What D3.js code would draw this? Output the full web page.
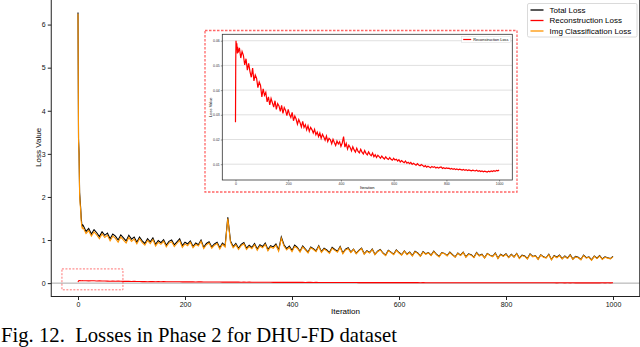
<!DOCTYPE html>
<html>
<head>
<meta charset="utf-8">
<script src="https://cdn.jsdelivr.net/npm/d3@7"></script>
<style>
  html, body { margin: 0; padding: 0; background: #fff; }
  svg { display: block; }
  .tick text { font-family: "Liberation Sans", Arial, sans-serif; }
</style>
</head>
<body>
<figure id="chart" style="margin:0"></figure>
<script>
// iterations: first ten one by one, then every 5th
const iterations = [0, 1, 2, 3, 4, 5, 6, 7, 8, 9].concat(d3.range(10, 1001, 5));

const clsLoss = [
  6.25, 3.30, 2.95, 2.05, 1.85, 1.68, 1.45, 1.32, 1.27, 1.29,
  1.28, 1.15, 1.22, 1.09, 1.19, 1.12, 1.03, 1.14, 1.06, 1.11,
  0.98, 1.09, 1.04, 0.95, 1.07, 1.00, 0.93, 1.06, 0.97, 1.02,
  0.91, 1.03, 0.94, 0.88, 0.99, 0.92, 1.01, 0.86, 0.95, 0.90,
  0.97, 0.84, 0.93, 0.96, 0.85, 0.92, 0.99, 0.83, 0.91, 0.87,
  0.95, 0.82, 0.90, 0.86, 0.97, 0.80, 0.89, 0.93, 0.81, 0.88,
  0.92, 0.79, 0.90, 0.84, 1.50, 0.95, 0.82, 0.89, 0.78, 0.87,
  0.91, 0.78, 0.85, 0.80, 0.89, 0.76, 0.86, 0.82, 0.90, 0.75,
  0.84, 0.81, 0.88, 0.74, 1.04, 0.86, 0.77, 0.83, 0.73, 0.85,
  0.81, 0.72, 0.84, 0.77, 0.70, 0.82, 0.78, 0.73, 0.85, 0.71,
  0.79, 0.75, 0.69, 0.81, 0.76, 0.72, 0.83, 0.68, 0.77, 0.80,
  0.71, 0.78, 0.68, 0.75, 0.80, 0.67, 0.74, 0.70, 0.78, 0.66,
  0.73, 0.77, 0.69, 0.64, 0.75, 0.71, 0.66, 0.76, 0.70, 0.65,
  0.74, 0.66, 0.71, 0.63, 0.73, 0.69, 0.62, 0.72, 0.67, 0.70,
  0.64, 0.73, 0.66, 0.61, 0.70, 0.68, 0.63, 0.71, 0.65, 0.60,
  0.69, 0.64, 0.71, 0.60, 0.67, 0.65, 0.59, 0.70, 0.63, 0.66,
  0.58, 0.68, 0.64, 0.61, 0.69, 0.57, 0.66, 0.62, 0.67, 0.59,
  0.66, 0.60, 0.68, 0.57, 0.64, 0.62, 0.56, 0.67, 0.61, 0.63,
  0.55, 0.65, 0.60, 0.58, 0.66, 0.54, 0.63, 0.59, 0.64, 0.56,
  0.62, 0.57, 0.65, 0.55, 0.61, 0.59, 0.54, 0.64, 0.58, 0.60,
  0.53, 0.62, 0.57, 0.63, 0.55, 0.60, 0.58, 0.56, 0.61
];

const totalLoss = [
  6.28, 3.35, 3.01, 2.11, 1.91, 1.74, 1.51, 1.38, 1.33, 1.35,
  1.33, 1.20, 1.27, 1.14, 1.24, 1.17, 1.08, 1.19, 1.11, 1.16,
  1.03, 1.14, 1.09, 1.00, 1.12, 1.05, 0.98, 1.11, 1.02, 1.07,
  0.95, 1.07, 0.98, 0.92, 1.03, 0.96, 1.05, 0.90, 0.99, 0.94,
  1.01, 0.88, 0.97, 1.00, 0.89, 0.96, 1.03, 0.87, 0.95, 0.91,
  0.98, 0.85, 0.93, 0.89, 1.00, 0.83, 0.92, 0.96, 0.84, 0.91,
  0.95, 0.82, 0.93, 0.87, 1.53, 0.98, 0.85, 0.92, 0.81, 0.90,
  0.94, 0.81, 0.88, 0.83, 0.92, 0.79, 0.89, 0.85, 0.93, 0.78,
  0.87, 0.84, 0.91, 0.77, 1.07, 0.89, 0.80, 0.86, 0.76, 0.88,
  0.83, 0.74, 0.86, 0.79, 0.72, 0.84, 0.80, 0.75, 0.87, 0.73,
  0.81, 0.77, 0.71, 0.83, 0.78, 0.74, 0.85, 0.70, 0.79, 0.82,
  0.72, 0.79, 0.69, 0.76, 0.81, 0.68, 0.75, 0.71, 0.79, 0.67,
  0.74, 0.78, 0.70, 0.65, 0.76, 0.72, 0.67, 0.77, 0.71, 0.66,
  0.75, 0.67, 0.72, 0.64, 0.74, 0.70, 0.63, 0.73, 0.68, 0.71,
  0.65, 0.74, 0.67, 0.62, 0.71, 0.69, 0.64, 0.72, 0.66, 0.61,
  0.70, 0.65, 0.72, 0.61, 0.68, 0.66, 0.60, 0.71, 0.64, 0.67,
  0.59, 0.69, 0.65, 0.62, 0.70, 0.58, 0.67, 0.63, 0.68, 0.60,
  0.67, 0.61, 0.69, 0.58, 0.65, 0.63, 0.57, 0.68, 0.62, 0.64,
  0.56, 0.66, 0.61, 0.59, 0.67, 0.55, 0.64, 0.60, 0.65, 0.57,
  0.63, 0.58, 0.66, 0.56, 0.62, 0.60, 0.55, 0.65, 0.59, 0.61,
  0.54, 0.63, 0.58, 0.64, 0.56, 0.61, 0.59, 0.57, 0.62
];

const reconLoss = [
  0.0270, 0.0520, 0.0600, 0.0585, 0.0565, 0.0590, 0.0570, 0.0548, 0.0575, 0.0560,
  0.0552, 0.0571, 0.0530, 0.0556, 0.0541, 0.0502, 0.0527, 0.0481, 0.0508, 0.0475,
  0.0452, 0.0489, 0.0437, 0.0461, 0.0448, 0.0410, 0.0433, 0.0419, 0.0372, 0.0405,
  0.0379, 0.0391, 0.0352, 0.0373, 0.0340, 0.0366, 0.0349, 0.0331, 0.0357, 0.0322,
  0.0345, 0.0336, 0.0314, 0.0338, 0.0306, 0.0329, 0.0318, 0.0297, 0.0322, 0.0301,
  0.0289, 0.0310, 0.0276, 0.0295, 0.0283, 0.0262, 0.0281, 0.0268, 0.0251, 0.0273,
  0.0249, 0.0260, 0.0239, 0.0256, 0.0233, 0.0249, 0.0240, 0.0226, 0.0241, 0.0219,
  0.0230, 0.0212, 0.0226, 0.0205, 0.0221, 0.0210, 0.0197, 0.0214, 0.0192, 0.0205,
  0.0199, 0.0183, 0.0201, 0.0188, 0.0176, 0.0194, 0.0182, 0.0191, 0.0172, 0.0186,
  0.0212, 0.0169, 0.0184, 0.0161, 0.0177, 0.0168, 0.0154, 0.0171, 0.0158, 0.0149,
  0.0165, 0.0152, 0.0146, 0.0160, 0.0149, 0.0141, 0.0155, 0.0144, 0.0138, 0.0150,
  0.0140, 0.0134, 0.0145, 0.0130, 0.0138, 0.0127, 0.0136, 0.0131, 0.0124, 0.0133,
  0.0126, 0.0121, 0.0130, 0.0123, 0.0119, 0.0127, 0.0120, 0.0116, 0.0124, 0.0117,
  0.0120, 0.0113, 0.0118, 0.0109, 0.0115, 0.0110, 0.0106, 0.0113, 0.0104, 0.0108,
  0.0102, 0.0107, 0.0099, 0.0104, 0.0100, 0.0096, 0.0102, 0.0097, 0.0094, 0.0099,
  0.0095, 0.0090, 0.0094, 0.0088, 0.0092, 0.0089, 0.0086, 0.0091, 0.0087, 0.0090,
  0.0085, 0.0088, 0.0084, 0.0087, 0.0089, 0.0083, 0.0086, 0.0082, 0.0085, 0.0083,
  0.0084, 0.0080, 0.0083, 0.0079, 0.0082, 0.0078, 0.0081, 0.0077, 0.0080, 0.0078,
  0.0076, 0.0079, 0.0075, 0.0078, 0.0074, 0.0077, 0.0075, 0.0073, 0.0076, 0.0074,
  0.0073, 0.0076, 0.0071, 0.0074, 0.0070, 0.0073, 0.0069, 0.0072, 0.0070, 0.0068,
  0.0072, 0.0069, 0.0073, 0.0070, 0.0074, 0.0071, 0.0075, 0.0073, 0.0076
];

const seriesNames = ['Total Loss', 'Reconstruction Loss', 'Img Classification Loss'];
const seriesColors = ['#000000', '#ff0000', '#ff9500'];
const xTicks = [0, 200, 400, 600, 800, 1000];
const yTicks = [0, 1, 2, 3, 4, 5, 6];
const insetYTicks = [0.01, 0.02, 0.03, 0.04, 0.05, 0.06];
const caption = 'Fig. 12.\u00a0 Losses in Phase 2 for DHU-FD dataset';

const width = 640;
const height = 347;
const font = '"Liberation Sans", Arial, sans-serif';

const svg = d3.select('figure#chart')
  .append('svg')
  .attr('width', width)
  .attr('height', height)
  .attr('viewBox', `0 0 ${width} ${height}`);

// main axes box
const box = { left: 51.25, right: 639.75, top: 0, bottom: 296.5 };

const xScale = d3.scaleLinear().domain([-50, 1050]).range([box.left, box.right]);
const yScale = d3.scaleLinear().domain([-0.31, 6.57]).range([box.bottom, box.top]);

// zero reference line
svg.append('line')
  .attr('x1', box.left).attr('x2', box.right)
  .attr('y1', yScale(0)).attr('y2', yScale(0))
  .attr('stroke', '#aaaaaa')
  .attr('stroke-width', 1);

const data = iterations.map((it, i) => ({
  it: it,
  total: totalLoss[i],
  recon: reconLoss[i],
  cls: clsLoss[i],
}));

const mainLine = key => d3.line()
  .x(d => xScale(d.it))
  .y(d => yScale(d[key]));

['total', 'recon', 'cls'].forEach((key, i) => {
  svg.append('path')
    .datum(data)
    .attr('fill', 'none')
    .attr('stroke', seriesColors[i])
    .attr('stroke-width', 1.1)
    .attr('d', mainLine(key));
});

// red dashed box around the reconstruction curve
svg.append('rect')
  .attr('x', xScale(-30))
  .attr('y', yScale(0.33))
  .attr('width', xScale(84) - xScale(-30))
  .attr('height', yScale(-0.155) - yScale(0.33))
  .attr('fill', 'none')
  .attr('stroke', '#ff0000')
  .attr('stroke-opacity', 0.55)
  .attr('stroke-width', 1)
  .attr('stroke-dasharray', '2,1.5');

// axes
const xAxis = svg.append('g')
  .attr('transform', `translate(0,${box.bottom})`)
  .call(d3.axisBottom(xScale).tickValues(xTicks).tickFormat(d3.format('d')).tickSize(3.5).tickPadding(2));
const yAxis = svg.append('g')
  .attr('transform', `translate(${box.left},0)`)
  .call(d3.axisLeft(yScale).tickValues(yTicks).tickFormat(d3.format('d')).tickSize(3.5).tickPadding(2));
[xAxis, yAxis].forEach(ax => {
  ax.select('.domain').remove();
  ax.selectAll('line').attr('stroke', '#222');
  ax.selectAll('text').attr('font-size', 7).attr('fill', '#111');
});

// spines
svg.append('rect')
  .attr('x', box.left).attr('y', box.top - 2)
  .attr('width', box.right - box.left)
  .attr('height', box.bottom - box.top + 2)
  .attr('fill', 'none')
  .attr('stroke', '#222')
  .attr('stroke-width', 1);

svg.append('text')
  .attr('x', xScale(500)).attr('y', 314)
  .attr('text-anchor', 'middle')
  .attr('font-family', font).attr('font-size', 8)
  .text('Iteration');

svg.append('text')
  .attr('transform', `translate(40.5,${yScale(3.15)}) rotate(-90)`)
  .attr('text-anchor', 'middle')
  .attr('font-family', font).attr('font-size', 8)
  .text('Loss Value');

// legend
const legend = svg.append('g').attr('transform', 'translate(527.5,3.5)');
legend.append('rect')
  .attr('width', 109.5).attr('height', 33.5)
  .attr('rx', 1.5)
  .attr('fill', '#fff').attr('fill-opacity', 0.85)
  .attr('stroke', '#d0d0d0').attr('stroke-width', 0.8);
seriesNames.forEach((name, i) => {
  const y = 6.5 + i * 10.5;
  legend.append('line')
    .attr('x1', 3).attr('x2', 16)
    .attr('y1', y).attr('y2', y)
    .attr('stroke', seriesColors[i]).attr('stroke-width', 1.3);
  legend.append('text')
    .attr('x', 22).attr('y', y + 2.8)
    .attr('font-family', font).attr('font-size', 8)
    .text(name);
});

// inset: zoom on reconstruction loss
svg.append('rect')
  .attr('x', 205).attr('y', 30.5)
  .attr('width', 312).attr('height', 161.5)
  .attr('fill', '#fff')
  .attr('stroke', '#ff0000')
  .attr('stroke-opacity', 0.6)
  .attr('stroke-width', 1.3)
  .attr('stroke-dasharray', '2.5,1.5');

const ibox = { left: 222.3, right: 512.3, top: 34.3, bottom: 180 };
const ixScale = d3.scaleLinear().domain([-50, 1050]).range([ibox.left, ibox.right]);
const iyScale = d3.scaleLinear().domain([0.0036, 0.0626]).range([ibox.bottom, ibox.top]);

const inset = svg.append('g');
inset.selectAll('line.grid')
  .data(insetYTicks)
  .enter()
  .append('line')
  .attr('class', 'grid')
  .attr('x1', ibox.left).attr('x2', ibox.right)
  .attr('y1', d => iyScale(d)).attr('y2', d => iyScale(d))
  .attr('stroke', '#d8d8d8').attr('stroke-width', 0.8);

inset.append('path')
  .datum(data)
  .attr('fill', 'none')
  .attr('stroke', '#ff0000')
  .attr('stroke-width', 1.2)
  .attr('d', d3.line().x(d => ixScale(d.it)).y(d => iyScale(d.recon)));

const ixAxis = inset.append('g')
  .attr('transform', `translate(0,${ibox.bottom})`)
  .call(d3.axisBottom(ixScale).tickValues(xTicks).tickFormat(d3.format('d')).tickSize(1.5).tickPadding(1));
const iyAxis = inset.append('g')
  .attr('transform', `translate(${ibox.left},0)`)
  .call(d3.axisLeft(iyScale).tickValues(insetYTicks).tickFormat(d3.format('.2f')).tickSize(1.5).tickPadding(1));
[ixAxis, iyAxis].forEach(ax => {
  ax.select('.domain').remove();
  ax.selectAll('line').attr('stroke', '#333').attr('stroke-width', 0.5);
  ax.selectAll('text').attr('font-size', 3.5).attr('fill', '#333');
});

inset.append('rect')
  .attr('x', ibox.left).attr('y', ibox.top)
  .attr('width', ibox.right - ibox.left)
  .attr('height', ibox.bottom - ibox.top)
  .attr('fill', 'none')
  .attr('stroke', '#333').attr('stroke-width', 0.8);

inset.append('text')
  .attr('x', ixScale(500)).attr('y', 188.5)
  .attr('text-anchor', 'middle')
  .attr('font-family', font).attr('font-size', 4)
  .text('Iteration');
inset.append('text')
  .attr('transform', `translate(211.5,${(ibox.top + ibox.bottom) / 2}) rotate(-90)`)
  .attr('text-anchor', 'middle')
  .attr('font-family', font).attr('font-size', 4)
  .text('Loss Value');

const ilegend = inset.append('g').attr('transform', 'translate(461.7,36.7)');
ilegend.append('rect')
  .attr('width', 49).attr('height', 5.6)
  .attr('fill', '#fff')
  .attr('stroke', '#d0d0d0').attr('stroke-width', 0.4);
ilegend.append('line')
  .attr('x1', 1.5).attr('x2', 9.5).attr('y1', 2.8).attr('y2', 2.8)
  .attr('stroke', '#ff0000').attr('stroke-width', 1.2);
ilegend.append('text')
  .attr('x', 11.5).attr('y', 4.2)
  .attr('font-family', font).attr('font-size', 3.9)
  .text(seriesNames[1]);

// caption
svg.append('text')
  .attr('x', 1).attr('y', 341.5)
  .attr('font-family', '"Liberation Serif", "Times New Roman", serif')
  .attr('font-size', 20.7)
  .attr('fill', '#000')
  .text(caption);
</script>
</body>
</html>
